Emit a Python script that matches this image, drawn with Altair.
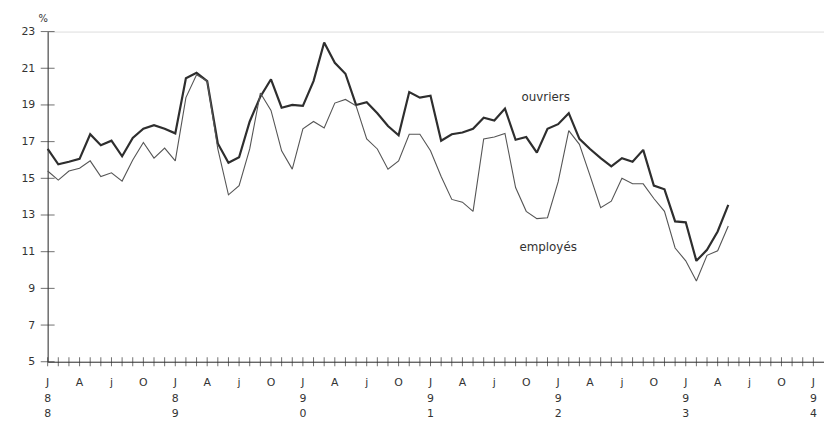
import altair as alt
import pandas as pd

# Monthly series, January 1988 (index 0) to May 1993 (index 64), in %
ouvriers = [16.6, 15.76, 15.9, 16.06, 17.4, 16.8, 17.05, 16.2, 17.2, 17.7, 17.9, 17.7,
            17.45, 20.45, 20.75, 20.3, 16.9, 15.85, 16.15, 18.1, 19.45, 20.4, 18.85, 19.0,
            18.95, 20.3, 22.4, 21.3, 20.7, 19.0, 19.15, 18.55, 17.85, 17.35, 19.7, 19.4,
            19.5, 17.05, 17.4, 17.5, 17.7, 18.3, 18.15, 18.8, 17.1, 17.25, 16.4, 17.7,
            17.95, 18.55, 17.15, 16.6, 16.1, 15.65, 16.1, 15.9, 16.55, 14.6, 14.4, 12.65,
            12.6, 10.5, 11.1, 12.1, 13.55]
employes = [15.4, 14.9, 15.4, 15.55, 15.95, 15.1, 15.3, 14.85, 16.0, 16.95, 16.1, 16.65,
            15.95, 19.4, 20.65, 20.3, 16.6, 14.1, 14.6, 16.6, 19.65, 18.7, 16.5, 15.5,
            17.7, 18.1, 17.75, 19.1, 19.3, 18.95, 17.15, 16.6, 15.5, 15.95, 17.4, 17.4,
            16.5, 15.1, 13.85, 13.7, 13.2, 17.15, 17.25, 17.45, 14.5, 13.2, 12.8, 12.85,
            14.8, 17.6, 16.85, 15.15, 13.4, 13.75, 15.0, 14.7, 14.7, 13.9, 13.2, 11.2,
            10.5, 9.4, 10.8, 11.05, 12.4]

y_ticks = [5, 7, 9, 11, 13, 15, 17, 19, 21, 23]
x_ticks = list(range(0, 73))            # one tick per month, Jan 88 .. Jan 94
quarter_letters = ["J", "A", "j", "O"]  # January, April, July, October
years = ["88", "89", "90", "91", "92", "93", "94"]
series_names = ["ouvriers", "employés"]
label_names = ["ouvriers", "employés"]
label_month = [46.83, 47.06]
label_value = [19.43, 11.27]

rows = []
for i, v in enumerate(ouvriers):
    rows.append({"m": i, "v": v, "s": "ouvriers"})
for i, v in enumerate(employes):
    rows.append({"m": i, "v": v, "s": "employés"})
df = pd.DataFrame(rows)

xt = pd.DataFrame({"m": x_ticks, "v": [5] * len(x_ticks)})
yt = pd.DataFrame({"m": [0] * len(y_ticks), "v": y_ticks})
lab = pd.DataFrame({"m": label_month, "v": label_value, "t": label_names})
ql = pd.DataFrame({"m": list(range(0, 73, 3)),
                   "v": [5] * 25,
                   "t": [quarter_letters[k % 4] for k in range(25)]})
yl = pd.DataFrame({"m": [12 * k for k in range(len(years))],
                   "v": [5] * len(years),
                   "t": ["\n".join(list(y)) for y in years]})

FONT = "DejaVu Sans"
INK = "#333333"

xscale = alt.Scale(domain=[0, 73], nice=False, zero=False)
yscale = alt.Scale(domain=[5, 23], nice=False, zero=False)

x_axis = alt.Axis(values=x_ticks, labels=False, ticks=False, tickSize=0, grid=False,
                  domainColor=INK, title=None)
y_axis = alt.Axis(values=y_ticks, ticks=False, tickSize=0, grid=False, labelPadding=13,
                  labelOverlap=False, labelFont=FONT, labelFontSize=11, labelColor=INK,
                  domainColor=INK,
                  title="%", titleAngle=0, titleAlign="center", titleBaseline="bottom",
                  titleX=-5, titleY=-8, titleFont=FONT, titleFontSize=10,
                  titleFontWeight="normal", titleColor=INK)

X = alt.X("m:Q", scale=xscale, axis=x_axis)
Y = alt.Y("v:Q", scale=yscale, axis=y_axis)

lines = alt.Chart(df).mark_line(strokeJoin="miter", strokeMiterLimit=2).encode(
    x=X, y=Y,
    detail="s:N",
    color=alt.Color("s:N", scale=alt.Scale(domain=series_names, range=["#2e2e2e", "#555555"]), legend=None),
    strokeWidth=alt.StrokeWidth("s:N", scale=alt.Scale(domain=series_names, range=[2.2, 1.1]), legend=None),
)

xtick_layer = alt.Chart(xt).mark_tick(orient="vertical", size=9, thickness=1, color=INK).encode(x=X, y=Y)
ytick_layer = alt.Chart(yt).mark_tick(orient="horizontal", size=14, thickness=1, color=INK).encode(x=X, y=Y)

labels = alt.Chart(lab).mark_text(font=FONT, fontSize=12, color=INK).encode(x=X, y=Y, text="t:N")

month_text = alt.Chart(ql).mark_text(font=FONT, fontSize=11, color=INK, baseline="middle",
                                     dy=21).encode(x=X, y=Y, text="t:N")
year_text = alt.Chart(yl).mark_text(font=FONT, fontSize=11, color=INK, baseline="top",
                                    lineBreak="\n", lineHeight=15, dy=32).encode(x=X, y=Y, text="t:N")

chart = alt.layer(lines, xtick_layer, ytick_layer, labels, month_text, year_text).properties(
    width=783, height=333,
    autosize="none",
    padding={"left": 40, "top": 22, "right": 0, "bottom": 58},
).configure_view(stroke=None).configure(background="white")

chart.save("out.html", embed_options={"renderer": "svg", "actions": False})
